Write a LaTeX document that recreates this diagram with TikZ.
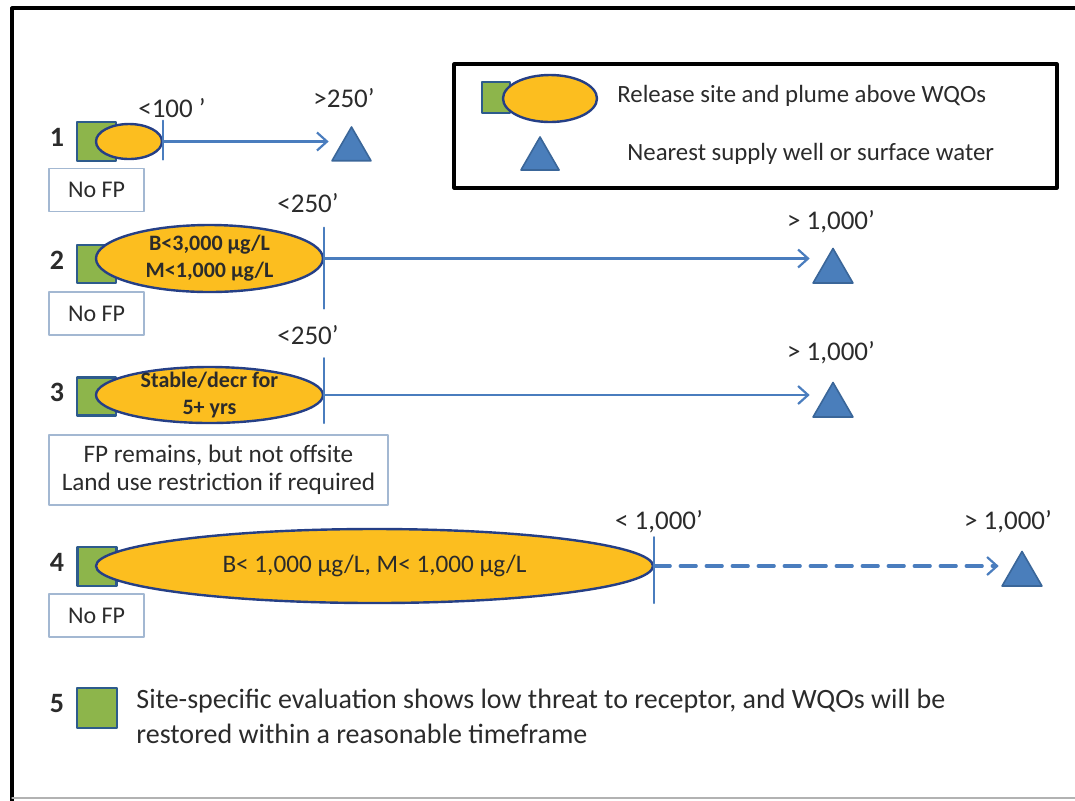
\documentclass[tikz,border=0pt]{standalone}
\usepackage{fontspec}
\setmainfont{Carlito}
\usetikzlibrary{shapes.geometric,arrows.meta}

\definecolor{sitegreen}{HTML}{8DB54B}
\definecolor{siteedge}{HTML}{2D5B8C}
\definecolor{plumefill}{HTML}{FCBE1F}
\definecolor{plumeedge}{HTML}{253F86}
\definecolor{flowblue}{HTML}{4A7DBE}
\definecolor{wellfill}{HTML}{4A7EBB}
\definecolor{welledge}{HTML}{3A6699}
\definecolor{noteedge}{HTML}{A3B8D2}
\definecolor{txtgray}{HTML}{2B2B2B}

\tikzset{
  site/.style={draw=siteedge, fill=sitegreen, line width=1.1pt, minimum width=19.5pt, minimum height=19.5pt, inner sep=0pt},
  plume/.style={ellipse, draw=plumeedge, fill=plumefill, line width=1.2pt, inner sep=0pt},
  plumetext/.style={align=center, inner sep=0pt, text=txtgray, font=\bfseries\fontsize{11}{13.5}\selectfont},
  well/.style={regular polygon, regular polygon sides=3, draw=welledge, fill=wellfill, line width=0.8pt, minimum size=23pt, inner sep=0pt},
  flow/.style={flowblue, line width=1.1pt, shorten >=1pt, -{Straight Barb[length=5pt,width=9pt,line width=1.1pt]}},
  tick/.style={flowblue, line width=1pt},
  note/.style={draw=noteedge, line width=0.8pt, minimum height=21.5pt, inner sep=2pt, align=center, text=txtgray, font=\fontsize{12}{14}\selectfont},
  dist/.style={inner sep=0pt, text=txtgray, font=\fontsize{13.5}{15}\selectfont},
  rownum/.style={inner sep=0pt, text=txtgray, font=\bfseries\fontsize{14}{16}\selectfont},
  legtext/.style={inner sep=0pt, anchor=west, text=txtgray, font=\fontsize{12.4}{14}\selectfont},
}

\begin{document}
\begin{tikzpicture}[x=0.5pt, y=-0.5pt, line join=round, line cap=round]
\useasboundingbox (0,0) rectangle (1075,800);
% outer frame
\draw[line width=1.6pt] (1090,8) -- (12,8) -- (12,805);
\draw[black!30, line width=0.6pt] (12,798) -- (1090,798);

% legend
\draw[line width=1.6pt] (454,64) rectangle (1057,188);
\node[site, minimum width=14pt, minimum height=15.5pt] (lsite) at (496,97.5) {};
\node[plume, minimum width=47pt, minimum height=23.5pt] (lplume) at (550,98.5) {};
\node[legtext] (ltext1) at (617,96) {Release site and plume above WQOs};
\node[well, minimum size=22pt] (lwell) at (540,159) {};
\node[legtext] (ltext2) at (627,154) {Nearest supply well or surface water};

% case 1
\node[rownum] (n1) at (57,137) {1};
\node[site] (site1) at (96.5,141.5) {};
\node[plume, minimum width=33pt, minimum height=17.5pt] (plume1) at (129,141.5) {};
\draw[tick] (plume1.east) ++(0,-21) -- ++(0,39);
\node[dist] (d1) at (172,108) {<100 ’};
\node[well, minimum size=22.5pt] (well1) at (351.5,149.5) {};
\node[dist] (r1) at (344,98) {>250’};
\draw[flow] (plume1.east) -- (plume1.east -| well1.corner 2);
\node[note, minimum width=47.5pt] (fp1) at (96.5,190) {No FP};

% case 2
\node[rownum] (n2) at (57,260) {2};
\node[site, minimum height=19pt] (site2) at (96.5,264) {};
\node[plume, minimum width=113.5pt, minimum height=33.5pt] (plume2) at (209.5,258.5) {};
\node[plumetext] (c2) at (plume2.center) {B<3,000 µg/L\\M<1,000 µg/L};
\draw[tick] (plume2.east) ++(0,-31) -- ++(0,81);
\node[dist] (d2) at (308,203) {<250’};
\node[well] (well2) at (833,271.5) {};
\node[dist] (r2) at (831,222) {> 1,000’};
\draw[flow] (plume2.east) -- (plume2.east -| well2.corner 2);
\node[note, minimum width=47.5pt] (fp2) at (96.5,313.5) {No FP};

% case 3
\node[rownum] (n3) at (57,392) {3};
\node[site, minimum height=19pt] (site3) at (96.5,396.5) {};
\node[plume, minimum width=113.5pt, minimum height=28pt] (plume3) at (209.5,395) {};
\node[plumetext] (c3) at (plume3.center) {Stable/decr for\\5+ yrs};
\draw[tick] (plume3.east) ++(0,-37) -- ++(0,65);
\node[dist] (d3) at (308,335) {<250’};
\node[well] (well3) at (833,405.5) {};
\node[dist] (r3) at (831,353) {> 1,000’};
\draw[flow] (plume3.east) -- (plume3.east -| well3.corner 2);
\node[note, minimum width=169.5pt, minimum height=35pt, font=\fontsize{12.6}{14}\selectfont] (fp3) at (218.5,470) {FP remains, but not offsite\\Land use restriction if required};

% case 4
\node[rownum] (n4) at (57,562) {4};
\node[site] (site4) at (97,566.5) {};
\node[plume, minimum width=278.5pt, minimum height=37pt] (plume4) at (374.5,566) {};
\node[plumetext, font=\fontsize{12.6}{14}\selectfont] (c4) at (plume4.center) {B< 1,000 µg/L, M< 1,000 µg/L};
\draw[tick] (plume4.east) ++(0,-29) -- ++(0,66);
\node[dist] (d4) at (659,522) {< 1,000’};
\node[well] (well4) at (1022,574.5) {};
\node[dist] (r4) at (1008,522) {> 1,000’};
\draw[flow, dashed, dash pattern=on 8pt off 5pt, line width=1.6pt] (plume4.east) -- (plume4.east -| well4.corner 2);
\node[note, minimum width=47.5pt] (fp4) at (96.5,615.5) {No FP};

% case 5
\node[rownum] (n5) at (57,703) {5};
\node[site, minimum width=20pt, minimum height=20pt] (site5) at (97,708) {};
\node[inner sep=0pt, anchor=north west, align=left, text=txtgray, font=\fontsize{14}{17.5}\selectfont] (t5) at (136,689) {Site-specific evaluation shows low threat to receptor, and WQOs will be\\restored within a reasonable timeframe};
\end{tikzpicture}
\end{document}
